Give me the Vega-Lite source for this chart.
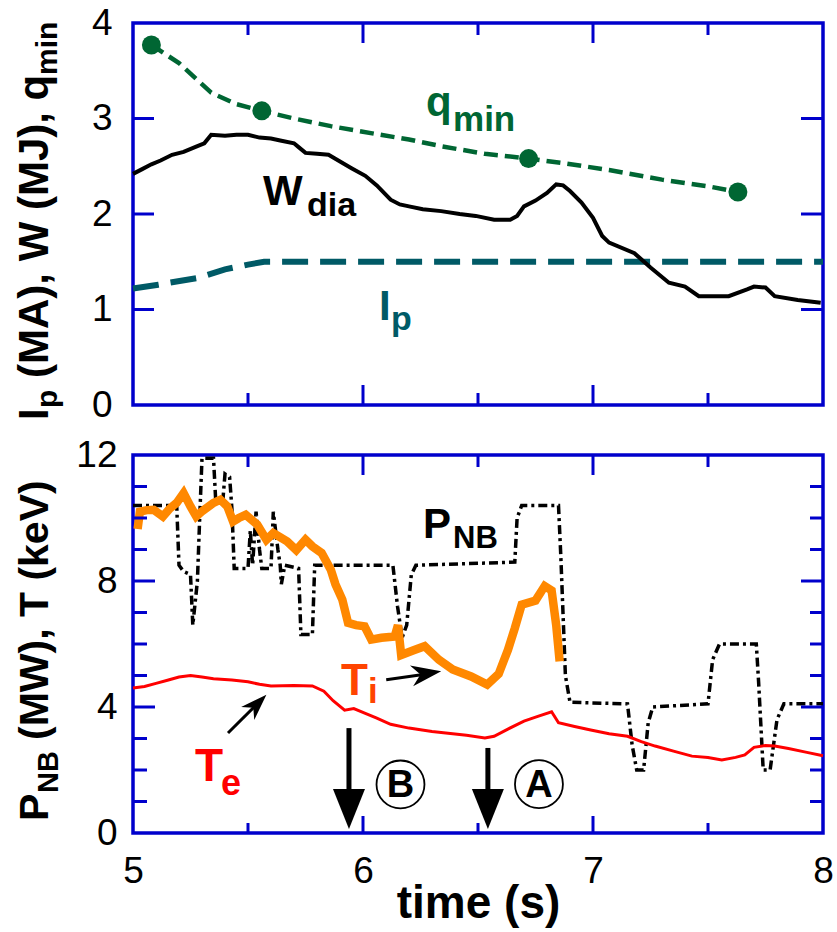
{
  "$schema": "https://vega.github.io/schema/vega-lite/v6.json",
  "padding": {"left": 12, "top": 2, "right": 0, "bottom": 0},
  "spacing": 50,
  "bounds": "flush",
  "config": {
    "font": "Liberation Sans",
    "view": {"stroke": "#0000cc", "strokeWidth": 3.5},
    "axis": {"domain": false, "grid": false, "ticks": false, "tickSize": 0, "labelFont": "Liberation Sans", "labelFontSize": 37, "labelColor": "black", "labelOverlap": false, "labelFlush": false, "labelBound": false, "titleFont": "Liberation Sans", "titleFontSize": 46, "titleFontWeight": "bold", "titleColor": "black", "titlePadding": 0, "format": "d"},
    "text": {"font": "Liberation Sans", "fontWeight": "bold", "align": "left", "baseline": "alphabetic"}
  },
  "datasets": {
    "w": [{"t":5.00,"v":2.42},{"t":5.04,"v":2.47},{"t":5.08,"v":2.52},{"t":5.12,"v":2.56},{"t":5.17,"v":2.62},{"t":5.22,"v":2.65},{"t":5.28,"v":2.71},{"t":5.31,"v":2.74},{"t":5.34,"v":2.83},{"t":5.40,"v":2.82},{"t":5.45,"v":2.83},{"t":5.50,"v":2.83},{"t":5.55,"v":2.80},{"t":5.60,"v":2.79},{"t":5.64,"v":2.77},{"t":5.70,"v":2.74},{"t":5.72,"v":2.70},{"t":5.75,"v":2.64},{"t":5.80,"v":2.63},{"t":5.85,"v":2.62},{"t":5.90,"v":2.55},{"t":5.95,"v":2.48},{"t":6.01,"v":2.40},{"t":6.06,"v":2.30},{"t":6.12,"v":2.15},{"t":6.16,"v":2.10},{"t":6.20,"v":2.08},{"t":6.26,"v":2.05},{"t":6.34,"v":2.03},{"t":6.42,"v":2.00},{"t":6.49,"v":1.98},{"t":6.57,"v":1.94},{"t":6.64,"v":1.94},{"t":6.67,"v":1.98},{"t":6.70,"v":2.08},{"t":6.75,"v":2.14},{"t":6.80,"v":2.22},{"t":6.84,"v":2.31},{"t":6.87,"v":2.30},{"t":6.90,"v":2.24},{"t":6.95,"v":2.12},{"t":7.00,"v":1.96},{"t":7.04,"v":1.77},{"t":7.07,"v":1.70},{"t":7.18,"v":1.59},{"t":7.25,"v":1.44},{"t":7.33,"v":1.28},{"t":7.40,"v":1.24},{"t":7.46,"v":1.14},{"t":7.59,"v":1.14},{"t":7.67,"v":1.21},{"t":7.70,"v":1.24},{"t":7.75,"v":1.23},{"t":7.79,"v":1.14},{"t":7.89,"v":1.10},{"t":7.99,"v":1.07}],
    "qline": [{"t":5.08,"v":3.77},{"t":5.20,"v":3.58},{"t":5.34,"v":3.27},{"t":5.45,"v":3.15},{"t":5.56,"v":3.08},{"t":5.70,"v":3.00},{"t":5.86,"v":2.92},{"t":6.05,"v":2.84},{"t":6.20,"v":2.78},{"t":6.34,"v":2.71},{"t":6.53,"v":2.63},{"t":6.72,"v":2.58},{"t":6.88,"v":2.53},{"t":7.07,"v":2.46},{"t":7.30,"v":2.36},{"t":7.50,"v":2.29},{"t":7.63,"v":2.23}],
    "qpts": [{"t":5.08,"v":3.77},{"t":5.56,"v":3.08},{"t":6.72,"v":2.58},{"t":7.63,"v":2.23}],
    "ip": [{"t":5.00,"v":1.22},{"t":5.11,"v":1.26},{"t":5.28,"v":1.33},{"t":5.40,"v":1.42},{"t":5.50,"v":1.47},{"t":5.57,"v":1.50},{"t":8.00,"v":1.50}],
    "pnb": [{"t":5.00,"v":10.4},{"t":5.19,"v":10.4},{"t":5.20,"v":8.5},{"t":5.22,"v":8.3},{"t":5.25,"v":8.2},{"t":5.26,"v":6.6},{"t":5.28,"v":8.0},{"t":5.29,"v":10.0},{"t":5.30,"v":11.9},{"t":5.35,"v":11.9},{"t":5.36,"v":10.5},{"t":5.39,"v":10.5},{"t":5.40,"v":11.4},{"t":5.42,"v":11.3},{"t":5.43,"v":10.3},{"t":5.44,"v":8.4},{"t":5.50,"v":8.4},{"t":5.51,"v":9.6},{"t":5.52,"v":8.5},{"t":5.535,"v":10.2},{"t":5.55,"v":9.0},{"t":5.56,"v":8.4},{"t":5.60,"v":8.4},{"t":5.61,"v":10.2},{"t":5.63,"v":9.0},{"t":5.64,"v":8.5},{"t":5.645,"v":7.9},{"t":5.66,"v":8.5},{"t":5.72,"v":8.4},{"t":5.73,"v":6.3},{"t":5.78,"v":6.3},{"t":5.79,"v":8.5},{"t":6.00,"v":8.5},{"t":6.13,"v":8.5},{"t":6.15,"v":7.2},{"t":6.17,"v":6.2},{"t":6.19,"v":6.6},{"t":6.21,"v":8.2},{"t":6.23,"v":8.5},{"t":6.66,"v":8.6},{"t":6.67,"v":10.0},{"t":6.69,"v":10.4},{"t":6.85,"v":10.4},{"t":6.86,"v":8.8},{"t":6.88,"v":5.0},{"t":6.90,"v":4.15},{"t":7.15,"v":4.1},{"t":7.17,"v":2.8},{"t":7.19,"v":2.0},{"t":7.22,"v":2.0},{"t":7.24,"v":3.5},{"t":7.26,"v":4.0},{"t":7.50,"v":4.1},{"t":7.52,"v":5.5},{"t":7.55,"v":6.0},{"t":7.71,"v":6.0},{"t":7.72,"v":4.8},{"t":7.74,"v":2.0},{"t":7.77,"v":2.0},{"t":7.80,"v":3.6},{"t":7.83,"v":4.1},{"t":8.00,"v":4.1}],
    "ti": [{"t":5.02,"v":9.65},{"t":5.03,"v":10.2},{"t":5.06,"v":10.25},{"t":5.09,"v":10.26},{"t":5.13,"v":10.05},{"t":5.16,"v":10.3},{"t":5.19,"v":10.48},{"t":5.22,"v":10.79},{"t":5.25,"v":10.37},{"t":5.275,"v":10.05},{"t":5.30,"v":10.21},{"t":5.35,"v":10.48},{"t":5.38,"v":10.58},{"t":5.41,"v":10.37},{"t":5.435,"v":9.89},{"t":5.46,"v":10.0},{"t":5.49,"v":10.1},{"t":5.54,"v":9.79},{"t":5.58,"v":9.31},{"t":5.61,"v":9.52},{"t":5.67,"v":9.26},{"t":5.71,"v":8.98},{"t":5.75,"v":9.31},{"t":5.78,"v":9.1},{"t":5.82,"v":8.89},{"t":5.86,"v":8.36},{"t":5.88,"v":7.9},{"t":5.91,"v":7.41},{"t":5.935,"v":6.67},{"t":5.97,"v":6.6},{"t":6.007,"v":6.56},{"t":6.036,"v":6.14},{"t":6.08,"v":6.2},{"t":6.138,"v":6.24},{"t":6.152,"v":6.6},{"t":6.166,"v":5.65},{"t":6.22,"v":5.8},{"t":6.268,"v":5.93},{"t":6.33,"v":5.5},{"t":6.39,"v":5.19},{"t":6.47,"v":4.97},{"t":6.54,"v":4.71},{"t":6.59,"v":5.05},{"t":6.63,"v":5.81},{"t":6.66,"v":6.5},{"t":6.69,"v":7.25},{"t":6.75,"v":7.38},{"t":6.79,"v":7.84},{"t":6.82,"v":7.7},{"t":6.84,"v":6.6},{"t":6.855,"v":5.45}],
    "te": [{"t":5.00,"v":4.6},{"t":5.05,"v":4.65},{"t":5.10,"v":4.75},{"t":5.15,"v":4.85},{"t":5.20,"v":4.95},{"t":5.25,"v":5.0},{"t":5.30,"v":4.95},{"t":5.35,"v":4.9},{"t":5.43,"v":4.86},{"t":5.50,"v":4.8},{"t":5.55,"v":4.72},{"t":5.60,"v":4.67},{"t":5.70,"v":4.68},{"t":5.78,"v":4.67},{"t":5.83,"v":4.5},{"t":5.87,"v":4.2},{"t":5.92,"v":3.9},{"t":5.96,"v":3.95},{"t":6.01,"v":3.8},{"t":6.06,"v":3.65},{"t":6.12,"v":3.45},{"t":6.20,"v":3.33},{"t":6.30,"v":3.22},{"t":6.37,"v":3.17},{"t":6.45,"v":3.1},{"t":6.53,"v":3.02},{"t":6.57,"v":3.07},{"t":6.63,"v":3.3},{"t":6.70,"v":3.55},{"t":6.76,"v":3.7},{"t":6.82,"v":3.85},{"t":6.85,"v":3.5},{"t":6.92,"v":3.38},{"t":6.99,"v":3.27},{"t":7.07,"v":3.15},{"t":7.15,"v":3.07},{"t":7.21,"v":2.9},{"t":7.27,"v":2.76},{"t":7.35,"v":2.6},{"t":7.43,"v":2.44},{"t":7.50,"v":2.40},{"t":7.56,"v":2.32},{"t":7.62,"v":2.40},{"t":7.66,"v":2.48},{"t":7.70,"v":2.72},{"t":7.75,"v":2.78},{"t":7.79,"v":2.76},{"t":7.85,"v":2.68},{"t":7.93,"v":2.56},{"t":8.00,"v":2.45}]
  },
  "vconcat": [
    {
      "width": 690,
      "height": 382,
      "resolve": {"axis": {"x": "independent", "y": "independent"}},
      "layer": [
        {
          "data": {"name": "ip"},
          "mark": {"type": "line", "color": "#005a66", "strokeWidth": 6, "strokeDash": [26, 12]},
          "encoding": {
            "x": {"field": "t", "type": "quantitative", "scale": {"domain": [5, 8], "nice": false}, "axis": null},
            "y": {"field": "v", "type": "quantitative", "scale": {"domain": [0, 4], "nice": false}, "axis": {"orient": "left", "values": [0, 1, 2, 3, 4], "title": null, "labelPadding": 21}}
          }
        },
        {
          "layer": [
            {
              "data": {"name": "w"},
              "mark": {"type": "line", "color": "black", "strokeWidth": 4},
              "encoding": {"x": {"field": "t", "type": "quantitative", "axis": null}, "y": {"field": "v", "type": "quantitative", "axis": null}}
            },
            {
              "data": {"name": "qline"},
              "mark": {"type": "line", "color": "#006633", "strokeWidth": 4.5, "strokeDash": [14, 7]},
              "encoding": {"x": {"field": "t", "type": "quantitative", "axis": null}, "y": {"field": "v", "type": "quantitative", "axis": null}}
            },
            {
              "data": {"name": "qpts"},
              "mark": {"type": "point", "shape": "circle", "filled": true, "color": "#006633", "size": 360, "opacity": 1},
              "encoding": {"x": {"field": "t", "type": "quantitative", "axis": null}, "y": {"field": "v", "type": "quantitative", "axis": null}}
            },
            {"data": {"values": [{}]}, "mark": {"type": "text", "text": "W", "fontSize": 42, "color": "black"}, "encoding": {"x": {"datum": 5.565, "type": "quantitative", "axis": null}, "y": {"datum": 2.094, "type": "quantitative", "axis": null}}},
            {"data": {"values": [{}]}, "mark": {"type": "text", "text": "dia", "fontSize": 34, "color": "black", "dx": 44, "dy": 11}, "encoding": {"x": {"datum": 5.565, "type": "quantitative", "axis": null}, "y": {"datum": 2.094, "type": "quantitative", "axis": null}}},
            {"data": {"values": [{}]}, "mark": {"type": "text", "text": "q", "fontSize": 42, "color": "#006633"}, "encoding": {"x": {"datum": 6.274, "type": "quantitative", "axis": null}, "y": {"datum": 3.026, "type": "quantitative", "axis": null}}},
            {"data": {"values": [{}]}, "mark": {"type": "text", "text": "min", "fontSize": 35, "color": "#006633", "dx": 27, "dy": 15}, "encoding": {"x": {"datum": 6.274, "type": "quantitative", "axis": null}, "y": {"datum": 3.026, "type": "quantitative", "axis": null}}},
            {"data": {"values": [{}]}, "mark": {"type": "text", "text": "I", "fontSize": 42, "color": "#005a66"}, "encoding": {"x": {"datum": 6.07, "type": "quantitative", "axis": null}, "y": {"datum": 0.89, "type": "quantitative", "axis": null}}},
            {"data": {"values": [{}]}, "mark": {"type": "text", "text": "p", "fontSize": 34, "color": "#005a66", "dx": 12, "dy": 10}, "encoding": {"x": {"datum": 6.07, "type": "quantitative", "axis": null}, "y": {"datum": 0.89, "type": "quantitative", "axis": null}}},
            {"data": {"values": [{}]}, "mark": {"type": "text", "text": "I", "fontSize": 42, "color": "black", "angle": 270, "dx": -15, "dy": -85}, "encoding": {"x": {"datum": 5, "type": "quantitative", "axis": null}, "y": {"datum": 0, "type": "quantitative", "axis": null}}},
            {"data": {"values": [{}]}, "mark": {"type": "text", "text": "p", "fontSize": 30, "color": "black", "angle": 270, "dx": -3, "dy": -76}, "encoding": {"x": {"datum": 5, "type": "quantitative", "axis": null}, "y": {"datum": 0, "type": "quantitative", "axis": null}}},
            {"data": {"values": [{}]}, "mark": {"type": "text", "text": "(MA), W (MJ), q", "fontSize": 42, "color": "black", "angle": 270, "dx": 27, "dy": -85}, "encoding": {"x": {"datum": 5, "type": "quantitative", "axis": null}, "y": {"datum": 0, "type": "quantitative", "axis": null}}},
            {"data": {"values": [{}]}, "mark": {"type": "text", "text": "min", "fontSize": 30, "color": "black", "angle": 270, "dx": 330, "dy": -76}, "encoding": {"x": {"datum": 5, "type": "quantitative", "axis": null}, "y": {"datum": 0, "type": "quantitative", "axis": null}}},
            {"data": {"values": [{}]}, "mark": {"type": "point", "shape": "M0,-1L0,1", "filled": false, "stroke": "#0000cc", "strokeWidth": 3, "size": 144, "opacity": 1}, "encoding": {"x": {"datum": 5.5, "type": "quantitative", "axis": null}, "y": {"datum": 0.0628, "type": "quantitative", "axis": null}}},
            {"data": {"values": [{}]}, "mark": {"type": "point", "shape": "M0,-1L0,1", "filled": false, "stroke": "#0000cc", "strokeWidth": 3, "size": 400, "opacity": 1}, "encoding": {"x": {"datum": 6, "type": "quantitative", "axis": null}, "y": {"datum": 0.1047, "type": "quantitative", "axis": null}}},
            {"data": {"values": [{}]}, "mark": {"type": "point", "shape": "M0,-1L0,1", "filled": false, "stroke": "#0000cc", "strokeWidth": 3, "size": 144, "opacity": 1}, "encoding": {"x": {"datum": 6.5, "type": "quantitative", "axis": null}, "y": {"datum": 0.0628, "type": "quantitative", "axis": null}}},
            {"data": {"values": [{}]}, "mark": {"type": "point", "shape": "M0,-1L0,1", "filled": false, "stroke": "#0000cc", "strokeWidth": 3, "size": 400, "opacity": 1}, "encoding": {"x": {"datum": 7, "type": "quantitative", "axis": null}, "y": {"datum": 0.1047, "type": "quantitative", "axis": null}}},
            {"data": {"values": [{}]}, "mark": {"type": "point", "shape": "M0,-1L0,1", "filled": false, "stroke": "#0000cc", "strokeWidth": 3, "size": 144, "opacity": 1}, "encoding": {"x": {"datum": 7.5, "type": "quantitative", "axis": null}, "y": {"datum": 0.0628, "type": "quantitative", "axis": null}}},
            {"data": {"values": [{}]}, "mark": {"type": "point", "shape": "M0,-1L0,1", "filled": false, "stroke": "#0000cc", "strokeWidth": 3, "size": 144, "opacity": 1}, "encoding": {"x": {"datum": 5.5, "type": "quantitative", "axis": null}, "y": {"datum": 3.9372, "type": "quantitative", "axis": null}}},
            {"data": {"values": [{}]}, "mark": {"type": "point", "shape": "M0,-1L0,1", "filled": false, "stroke": "#0000cc", "strokeWidth": 3, "size": 400, "opacity": 1}, "encoding": {"x": {"datum": 6, "type": "quantitative", "axis": null}, "y": {"datum": 3.8953, "type": "quantitative", "axis": null}}},
            {"data": {"values": [{}]}, "mark": {"type": "point", "shape": "M0,-1L0,1", "filled": false, "stroke": "#0000cc", "strokeWidth": 3, "size": 144, "opacity": 1}, "encoding": {"x": {"datum": 6.5, "type": "quantitative", "axis": null}, "y": {"datum": 3.9372, "type": "quantitative", "axis": null}}},
            {"data": {"values": [{}]}, "mark": {"type": "point", "shape": "M0,-1L0,1", "filled": false, "stroke": "#0000cc", "strokeWidth": 3, "size": 400, "opacity": 1}, "encoding": {"x": {"datum": 7, "type": "quantitative", "axis": null}, "y": {"datum": 3.8953, "type": "quantitative", "axis": null}}},
            {"data": {"values": [{}]}, "mark": {"type": "point", "shape": "M0,-1L0,1", "filled": false, "stroke": "#0000cc", "strokeWidth": 3, "size": 144, "opacity": 1}, "encoding": {"x": {"datum": 7.5, "type": "quantitative", "axis": null}, "y": {"datum": 3.9372, "type": "quantitative", "axis": null}}},
            {"data": {"values": [{}]}, "mark": {"type": "point", "shape": "M-1,0L1,0", "filled": false, "stroke": "#0000cc", "strokeWidth": 3, "size": 441, "opacity": 1}, "encoding": {"x": {"datum": 5.0457, "type": "quantitative", "axis": null}, "y": {"datum": 1, "type": "quantitative", "axis": null}}},
            {"data": {"values": [{}]}, "mark": {"type": "point", "shape": "M-1,0L1,0", "filled": false, "stroke": "#0000cc", "strokeWidth": 3, "size": 441, "opacity": 1}, "encoding": {"x": {"datum": 5.0457, "type": "quantitative", "axis": null}, "y": {"datum": 2, "type": "quantitative", "axis": null}}},
            {"data": {"values": [{}]}, "mark": {"type": "point", "shape": "M-1,0L1,0", "filled": false, "stroke": "#0000cc", "strokeWidth": 3, "size": 441, "opacity": 1}, "encoding": {"x": {"datum": 5.0457, "type": "quantitative", "axis": null}, "y": {"datum": 3, "type": "quantitative", "axis": null}}},
            {"data": {"values": [{}]}, "mark": {"type": "point", "shape": "M-1,0L1,0", "filled": false, "stroke": "#0000cc", "strokeWidth": 3, "size": 484, "opacity": 1}, "encoding": {"x": {"datum": 7.9522, "type": "quantitative", "axis": null}, "y": {"datum": 1, "type": "quantitative", "axis": null}}},
            {"data": {"values": [{}]}, "mark": {"type": "point", "shape": "M-1,0L1,0", "filled": false, "stroke": "#0000cc", "strokeWidth": 3, "size": 484, "opacity": 1}, "encoding": {"x": {"datum": 7.9522, "type": "quantitative", "axis": null}, "y": {"datum": 2, "type": "quantitative", "axis": null}}},
            {"data": {"values": [{}]}, "mark": {"type": "point", "shape": "M-1,0L1,0", "filled": false, "stroke": "#0000cc", "strokeWidth": 3, "size": 484, "opacity": 1}, "encoding": {"x": {"datum": 7.9522, "type": "quantitative", "axis": null}, "y": {"datum": 3, "type": "quantitative", "axis": null}}}
          ]
        }
      ]
    },
    {
      "width": 690,
      "height": 378,
      "resolve": {"axis": {"x": "independent", "y": "independent"}},
      "layer": [
        {
          "data": {"name": "pnb"},
          "mark": {"type": "line", "color": "black", "strokeWidth": 3.5, "strokeDash": [9, 4, 3, 4]},
          "encoding": {
            "x": {"field": "t", "type": "quantitative", "scale": {"domain": [5, 8], "nice": false}, "axis": {"orient": "bottom", "values": [5, 6, 7, 8], "title": "time (s)", "labelPadding": 20, "titlePadding": -8}},
            "y": {"field": "v", "type": "quantitative", "scale": {"domain": [0, 12], "nice": false}, "axis": {"orient": "left", "values": [0, 4, 8, 12], "title": null, "labelPadding": 16}}
          }
        },
        {
          "layer": [
            {
              "data": {"name": "te"},
              "mark": {"type": "line", "color": "#ff0000", "strokeWidth": 3},
              "encoding": {"x": {"field": "t", "type": "quantitative", "axis": null}, "y": {"field": "v", "type": "quantitative", "axis": null}}
            },
            {
              "data": {"name": "ti"},
              "mark": {"type": "line", "color": "#ff8800", "strokeWidth": 8.5},
              "encoding": {"x": {"field": "t", "type": "quantitative", "axis": null}, "y": {"field": "v", "type": "quantitative", "axis": null}}
            },
            {"data": {"values": [{}]}, "mark": {"type": "text", "text": "P", "fontSize": 42, "color": "black"}, "encoding": {"x": {"datum": 6.261, "type": "quantitative", "axis": null}, "y": {"datum": 9.365, "type": "quantitative", "axis": null}}},
            {"data": {"values": [{}]}, "mark": {"type": "text", "text": "NB", "fontSize": 31, "color": "black", "dx": 30, "dy": 10}, "encoding": {"x": {"datum": 6.261, "type": "quantitative", "axis": null}, "y": {"datum": 9.365, "type": "quantitative", "axis": null}}},
            {"data": {"values": [{}]}, "mark": {"type": "text", "text": "T", "fontSize": 44, "color": "#ff4400"}, "encoding": {"x": {"datum": 5.904, "type": "quantitative", "axis": null}, "y": {"datum": 4.38, "type": "quantitative", "axis": null}}},
            {"data": {"values": [{}]}, "mark": {"type": "text", "text": "i", "fontSize": 35, "color": "#ff4400", "dx": 27, "dy": 8}, "encoding": {"x": {"datum": 5.904, "type": "quantitative", "axis": null}, "y": {"datum": 4.38, "type": "quantitative", "axis": null}}},
            {"data": {"values": [{}]}, "mark": {"type": "text", "text": "T", "fontSize": 46, "color": "#ff0000"}, "encoding": {"x": {"datum": 5.27, "type": "quantitative", "axis": null}, "y": {"datum": 1.65, "type": "quantitative", "axis": null}}},
            {"data": {"values": [{}]}, "mark": {"type": "text", "text": "e", "fontSize": 36, "color": "#ff0000", "dx": 26, "dy": 14}, "encoding": {"x": {"datum": 5.27, "type": "quantitative", "axis": null}, "y": {"datum": 1.65, "type": "quantitative", "axis": null}}},
            {"data": {"values": [{}]}, "mark": {"type": "rule", "color": "black", "strokeWidth": 3}, "encoding": {"x": {"datum": 6.101, "type": "quantitative", "axis": null}, "y": {"datum": 4.867, "type": "quantitative", "axis": null}, "x2": {"datum": 6.30}, "y2": {"datum": 5.07}}},
            {"data": {"values": [{}]}, "mark": {"type": "point", "shape": "M0,0L-2,-0.7L-1.4,0L-2,0.7Z", "filled": true, "color": "black", "size": 900, "opacity": 1, "angle": -8.7}, "encoding": {"x": {"datum": 6.340, "type": "quantitative", "axis": null}, "y": {"datum": 5.133, "type": "quantitative", "axis": null}}},
            {"data": {"values": [{}]}, "mark": {"type": "rule", "color": "black", "strokeWidth": 3}, "encoding": {"x": {"datum": 5.413, "type": "quantitative", "axis": null}, "y": {"datum": 3.175, "type": "quantitative", "axis": null}, "x2": {"datum": 5.55}, "y2": {"datum": 4.17}}},
            {"data": {"values": [{}]}, "mark": {"type": "point", "shape": "M0,0L-2,-0.7L-1.4,0L-2,0.7Z", "filled": true, "color": "black", "size": 700, "opacity": 1, "angle": -45}, "encoding": {"x": {"datum": 5.580, "type": "quantitative", "axis": null}, "y": {"datum": 4.39, "type": "quantitative", "axis": null}}},
            {"data": {"values": [{}]}, "mark": {"type": "rule", "color": "black", "strokeWidth": 5}, "encoding": {"x": {"datum": 5.939, "type": "quantitative", "axis": null}, "y": {"datum": 3.33, "type": "quantitative", "axis": null}, "y2": {"datum": 1.2}}},
            {"data": {"values": [{}]}, "mark": {"type": "point", "shape": "M-1,-1.25L1,-1.25L0,1.25Z", "filled": true, "color": "black", "size": 1024, "opacity": 1}, "encoding": {"x": {"datum": 5.939, "type": "quantitative", "axis": null}, "y": {"datum": 0.76, "type": "quantitative", "axis": null}}},
            {"data": {"values": [{}]}, "mark": {"type": "rule", "color": "black", "strokeWidth": 5}, "encoding": {"x": {"datum": 6.543, "type": "quantitative", "axis": null}, "y": {"datum": 2.70, "type": "quantitative", "axis": null}, "y2": {"datum": 1.2}}},
            {"data": {"values": [{}]}, "mark": {"type": "point", "shape": "M-1,-1.25L1,-1.25L0,1.25Z", "filled": true, "color": "black", "size": 1024, "opacity": 1}, "encoding": {"x": {"datum": 6.543, "type": "quantitative", "axis": null}, "y": {"datum": 0.76, "type": "quantitative", "axis": null}}},
            {"data": {"values": [{}]}, "mark": {"type": "point", "shape": "circle", "filled": false, "stroke": "black", "strokeWidth": 1.8, "size": 2300, "opacity": 1}, "encoding": {"x": {"datum": 6.163, "type": "quantitative", "axis": null}, "y": {"datum": 1.54, "type": "quantitative", "axis": null}}},
            {"data": {"values": [{}]}, "mark": {"type": "text", "text": "B", "fontSize": 38, "color": "black", "align": "center", "baseline": "middle", "dy": 2}, "encoding": {"x": {"datum": 6.163, "type": "quantitative", "axis": null}, "y": {"datum": 1.54, "type": "quantitative", "axis": null}}},
            {"data": {"values": [{}]}, "mark": {"type": "point", "shape": "circle", "filled": false, "stroke": "black", "strokeWidth": 1.8, "size": 2300, "opacity": 1}, "encoding": {"x": {"datum": 6.765, "type": "quantitative", "axis": null}, "y": {"datum": 1.55, "type": "quantitative", "axis": null}}},
            {"data": {"values": [{}]}, "mark": {"type": "text", "text": "A", "fontSize": 38, "color": "black", "align": "center", "baseline": "middle", "dy": 2}, "encoding": {"x": {"datum": 6.765, "type": "quantitative", "axis": null}, "y": {"datum": 1.55, "type": "quantitative", "axis": null}}},
            {"data": {"values": [{}]}, "mark": {"type": "text", "text": "P", "fontSize": 41, "color": "black", "angle": 270, "dx": 12, "dy": -85}, "encoding": {"x": {"datum": 5, "type": "quantitative", "axis": null}, "y": {"datum": 0, "type": "quantitative", "axis": null}}},
            {"data": {"values": [{}]}, "mark": {"type": "text", "text": "NB", "fontSize": 29, "color": "black", "angle": 270, "dx": 40, "dy": -75}, "encoding": {"x": {"datum": 5, "type": "quantitative", "axis": null}, "y": {"datum": 0, "type": "quantitative", "axis": null}}},
            {"data": {"values": [{}]}, "mark": {"type": "text", "text": "(MW), T (keV)", "fontSize": 41, "color": "black", "angle": 270, "dx": 93, "dy": -85}, "encoding": {"x": {"datum": 5, "type": "quantitative", "axis": null}, "y": {"datum": 0, "type": "quantitative", "axis": null}}},
            {"data": {"values": [{}]}, "mark": {"type": "point", "shape": "M0,-1L0,1", "filled": false, "stroke": "#0000cc", "strokeWidth": 3, "size": 100, "opacity": 1}, "encoding": {"x": {"datum": 5.5, "type": "quantitative", "axis": null}, "y": {"datum": 0.159, "type": "quantitative", "axis": null}}},
            {"data": {"values": [{}]}, "mark": {"type": "point", "shape": "M0,-1L0,1", "filled": false, "stroke": "#0000cc", "strokeWidth": 3, "size": 289, "opacity": 1}, "encoding": {"x": {"datum": 6, "type": "quantitative", "axis": null}, "y": {"datum": 0.27, "type": "quantitative", "axis": null}}},
            {"data": {"values": [{}]}, "mark": {"type": "point", "shape": "M0,-1L0,1", "filled": false, "stroke": "#0000cc", "strokeWidth": 3, "size": 100, "opacity": 1}, "encoding": {"x": {"datum": 6.5, "type": "quantitative", "axis": null}, "y": {"datum": 0.159, "type": "quantitative", "axis": null}}},
            {"data": {"values": [{}]}, "mark": {"type": "point", "shape": "M0,-1L0,1", "filled": false, "stroke": "#0000cc", "strokeWidth": 3, "size": 289, "opacity": 1}, "encoding": {"x": {"datum": 7, "type": "quantitative", "axis": null}, "y": {"datum": 0.27, "type": "quantitative", "axis": null}}},
            {"data": {"values": [{}]}, "mark": {"type": "point", "shape": "M0,-1L0,1", "filled": false, "stroke": "#0000cc", "strokeWidth": 3, "size": 100, "opacity": 1}, "encoding": {"x": {"datum": 7.5, "type": "quantitative", "axis": null}, "y": {"datum": 0.159, "type": "quantitative", "axis": null}}},
            {"data": {"values": [{}]}, "mark": {"type": "point", "shape": "M0,-1L0,1", "filled": false, "stroke": "#0000cc", "strokeWidth": 3, "size": 144, "opacity": 1}, "encoding": {"x": {"datum": 5.5, "type": "quantitative", "axis": null}, "y": {"datum": 11.81, "type": "quantitative", "axis": null}}},
            {"data": {"values": [{}]}, "mark": {"type": "point", "shape": "M0,-1L0,1", "filled": false, "stroke": "#0000cc", "strokeWidth": 3, "size": 400, "opacity": 1}, "encoding": {"x": {"datum": 6, "type": "quantitative", "axis": null}, "y": {"datum": 11.683, "type": "quantitative", "axis": null}}},
            {"data": {"values": [{}]}, "mark": {"type": "point", "shape": "M0,-1L0,1", "filled": false, "stroke": "#0000cc", "strokeWidth": 3, "size": 144, "opacity": 1}, "encoding": {"x": {"datum": 6.5, "type": "quantitative", "axis": null}, "y": {"datum": 11.81, "type": "quantitative", "axis": null}}},
            {"data": {"values": [{}]}, "mark": {"type": "point", "shape": "M0,-1L0,1", "filled": false, "stroke": "#0000cc", "strokeWidth": 3, "size": 400, "opacity": 1}, "encoding": {"x": {"datum": 7, "type": "quantitative", "axis": null}, "y": {"datum": 11.683, "type": "quantitative", "axis": null}}},
            {"data": {"values": [{}]}, "mark": {"type": "point", "shape": "M0,-1L0,1", "filled": false, "stroke": "#0000cc", "strokeWidth": 3, "size": 144, "opacity": 1}, "encoding": {"x": {"datum": 7.5, "type": "quantitative", "axis": null}, "y": {"datum": 11.81, "type": "quantitative", "axis": null}}},
            {"data": {"values": [{}]}, "mark": {"type": "point", "shape": "M-1,0L1,0", "filled": false, "stroke": "#0000cc", "strokeWidth": 3, "size": 196, "opacity": 1}, "encoding": {"x": {"datum": 5.0304, "type": "quantitative", "axis": null}, "y": {"datum": 1, "type": "quantitative", "axis": null}}},
            {"data": {"values": [{}]}, "mark": {"type": "point", "shape": "M-1,0L1,0", "filled": false, "stroke": "#0000cc", "strokeWidth": 3, "size": 196, "opacity": 1}, "encoding": {"x": {"datum": 5.0304, "type": "quantitative", "axis": null}, "y": {"datum": 2, "type": "quantitative", "axis": null}}},
            {"data": {"values": [{}]}, "mark": {"type": "point", "shape": "M-1,0L1,0", "filled": false, "stroke": "#0000cc", "strokeWidth": 3, "size": 196, "opacity": 1}, "encoding": {"x": {"datum": 5.0304, "type": "quantitative", "axis": null}, "y": {"datum": 3, "type": "quantitative", "axis": null}}},
            {"data": {"values": [{}]}, "mark": {"type": "point", "shape": "M-1,0L1,0", "filled": false, "stroke": "#0000cc", "strokeWidth": 3, "size": 484, "opacity": 1}, "encoding": {"x": {"datum": 5.0478, "type": "quantitative", "axis": null}, "y": {"datum": 4, "type": "quantitative", "axis": null}}},
            {"data": {"values": [{}]}, "mark": {"type": "point", "shape": "M-1,0L1,0", "filled": false, "stroke": "#0000cc", "strokeWidth": 3, "size": 196, "opacity": 1}, "encoding": {"x": {"datum": 5.0304, "type": "quantitative", "axis": null}, "y": {"datum": 5, "type": "quantitative", "axis": null}}},
            {"data": {"values": [{}]}, "mark": {"type": "point", "shape": "M-1,0L1,0", "filled": false, "stroke": "#0000cc", "strokeWidth": 3, "size": 196, "opacity": 1}, "encoding": {"x": {"datum": 5.0304, "type": "quantitative", "axis": null}, "y": {"datum": 6, "type": "quantitative", "axis": null}}},
            {"data": {"values": [{}]}, "mark": {"type": "point", "shape": "M-1,0L1,0", "filled": false, "stroke": "#0000cc", "strokeWidth": 3, "size": 196, "opacity": 1}, "encoding": {"x": {"datum": 5.0304, "type": "quantitative", "axis": null}, "y": {"datum": 7, "type": "quantitative", "axis": null}}},
            {"data": {"values": [{}]}, "mark": {"type": "point", "shape": "M-1,0L1,0", "filled": false, "stroke": "#0000cc", "strokeWidth": 3, "size": 484, "opacity": 1}, "encoding": {"x": {"datum": 5.0478, "type": "quantitative", "axis": null}, "y": {"datum": 8, "type": "quantitative", "axis": null}}},
            {"data": {"values": [{}]}, "mark": {"type": "point", "shape": "M-1,0L1,0", "filled": false, "stroke": "#0000cc", "strokeWidth": 3, "size": 196, "opacity": 1}, "encoding": {"x": {"datum": 5.0304, "type": "quantitative", "axis": null}, "y": {"datum": 9, "type": "quantitative", "axis": null}}},
            {"data": {"values": [{}]}, "mark": {"type": "point", "shape": "M-1,0L1,0", "filled": false, "stroke": "#0000cc", "strokeWidth": 3, "size": 196, "opacity": 1}, "encoding": {"x": {"datum": 5.0304, "type": "quantitative", "axis": null}, "y": {"datum": 10, "type": "quantitative", "axis": null}}},
            {"data": {"values": [{}]}, "mark": {"type": "point", "shape": "M-1,0L1,0", "filled": false, "stroke": "#0000cc", "strokeWidth": 3, "size": 196, "opacity": 1}, "encoding": {"x": {"datum": 5.0304, "type": "quantitative", "axis": null}, "y": {"datum": 11, "type": "quantitative", "axis": null}}},
            {"data": {"values": [{}]}, "mark": {"type": "point", "shape": "M-1,0L1,0", "filled": false, "stroke": "#0000cc", "strokeWidth": 3, "size": 169, "opacity": 1}, "encoding": {"x": {"datum": 7.9717, "type": "quantitative", "axis": null}, "y": {"datum": 1, "type": "quantitative", "axis": null}}},
            {"data": {"values": [{}]}, "mark": {"type": "point", "shape": "M-1,0L1,0", "filled": false, "stroke": "#0000cc", "strokeWidth": 3, "size": 169, "opacity": 1}, "encoding": {"x": {"datum": 7.9717, "type": "quantitative", "axis": null}, "y": {"datum": 2, "type": "quantitative", "axis": null}}},
            {"data": {"values": [{}]}, "mark": {"type": "point", "shape": "M-1,0L1,0", "filled": false, "stroke": "#0000cc", "strokeWidth": 3, "size": 169, "opacity": 1}, "encoding": {"x": {"datum": 7.9717, "type": "quantitative", "axis": null}, "y": {"datum": 3, "type": "quantitative", "axis": null}}},
            {"data": {"values": [{}]}, "mark": {"type": "point", "shape": "M-1,0L1,0", "filled": false, "stroke": "#0000cc", "strokeWidth": 3, "size": 484, "opacity": 1}, "encoding": {"x": {"datum": 7.9522, "type": "quantitative", "axis": null}, "y": {"datum": 4, "type": "quantitative", "axis": null}}},
            {"data": {"values": [{}]}, "mark": {"type": "point", "shape": "M-1,0L1,0", "filled": false, "stroke": "#0000cc", "strokeWidth": 3, "size": 169, "opacity": 1}, "encoding": {"x": {"datum": 7.9717, "type": "quantitative", "axis": null}, "y": {"datum": 5, "type": "quantitative", "axis": null}}},
            {"data": {"values": [{}]}, "mark": {"type": "point", "shape": "M-1,0L1,0", "filled": false, "stroke": "#0000cc", "strokeWidth": 3, "size": 169, "opacity": 1}, "encoding": {"x": {"datum": 7.9717, "type": "quantitative", "axis": null}, "y": {"datum": 6, "type": "quantitative", "axis": null}}},
            {"data": {"values": [{}]}, "mark": {"type": "point", "shape": "M-1,0L1,0", "filled": false, "stroke": "#0000cc", "strokeWidth": 3, "size": 169, "opacity": 1}, "encoding": {"x": {"datum": 7.9717, "type": "quantitative", "axis": null}, "y": {"datum": 7, "type": "quantitative", "axis": null}}},
            {"data": {"values": [{}]}, "mark": {"type": "point", "shape": "M-1,0L1,0", "filled": false, "stroke": "#0000cc", "strokeWidth": 3, "size": 484, "opacity": 1}, "encoding": {"x": {"datum": 7.9522, "type": "quantitative", "axis": null}, "y": {"datum": 8, "type": "quantitative", "axis": null}}},
            {"data": {"values": [{}]}, "mark": {"type": "point", "shape": "M-1,0L1,0", "filled": false, "stroke": "#0000cc", "strokeWidth": 3, "size": 169, "opacity": 1}, "encoding": {"x": {"datum": 7.9717, "type": "quantitative", "axis": null}, "y": {"datum": 9, "type": "quantitative", "axis": null}}},
            {"data": {"values": [{}]}, "mark": {"type": "point", "shape": "M-1,0L1,0", "filled": false, "stroke": "#0000cc", "strokeWidth": 3, "size": 169, "opacity": 1}, "encoding": {"x": {"datum": 7.9717, "type": "quantitative", "axis": null}, "y": {"datum": 10, "type": "quantitative", "axis": null}}},
            {"data": {"values": [{}]}, "mark": {"type": "point", "shape": "M-1,0L1,0", "filled": false, "stroke": "#0000cc", "strokeWidth": 3, "size": 169, "opacity": 1}, "encoding": {"x": {"datum": 7.9717, "type": "quantitative", "axis": null}, "y": {"datum": 11, "type": "quantitative", "axis": null}}}
          ]
        }
      ]
    }
  ]
}
